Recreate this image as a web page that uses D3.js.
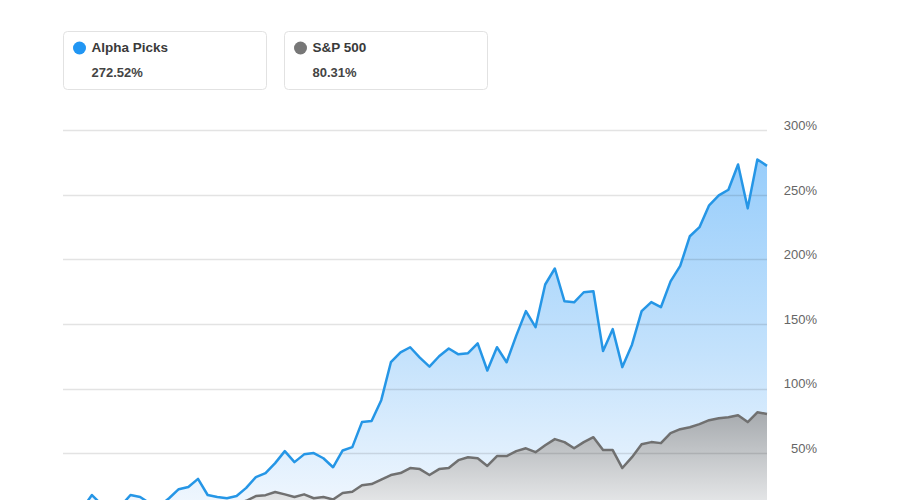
<!DOCTYPE html>
<html>
<head>
<meta charset="utf-8">
<script src="https://cdn.jsdelivr.net/npm/d3@7"></script>
<style>
  html, body { margin: 0; padding: 0; background: #fff; }
  svg { display: block; font-family: "Liberation Sans", Arial, sans-serif; }
</style>
</head>
<body>
<svg id="chart" width="900" height="500"></svg>
<script>
// ---- data ----
const seriesNames = ["Alpha Picks", "S&P 500"];
const seriesTotals = ["272.52%", "80.31%"];
const alphaValues = [8, 10, 7, 17.5, 10, 8, 9, 17.5, 16, 11, 9, 15, 22, 23.7, 30, 17.5, 16, 15, 16.7, 23,
  31.4, 34.5, 42.2, 51.5, 43, 49, 50, 46, 39, 52, 54.6, 74, 74.8, 91, 120.4, 128, 132, 124, 117, 125,
  131, 126.5, 127.4, 135, 114, 132, 120.4, 141, 160, 147.5, 180.6, 193, 167.6, 166.8, 174.6, 175.4, 129, 146, 116.6, 134,
  160, 167, 163, 183, 195, 218, 225, 242, 249.6, 254, 273.6, 239.6, 277.5, 272.52];
const spValues = [0, 2, 1, 3, 2, 4, 3, 5, 6, 4, 5, 7, 8, 9, 10, 8, 9, 10, 11, 13,
  16.7, 17.4, 19.8, 18, 16, 18, 15, 16, 14, 19, 20, 25, 26, 29.5, 33, 34.5, 38.4, 37.6, 33, 37.6,
  38.4, 44.5, 46.8, 46, 40, 47.7, 47.7, 51.5, 53.7, 50.7, 56, 60.8, 58.5, 53.7, 58.5, 62.3, 52.3, 52.3, 38.4, 46.8,
  56.8, 58.5, 57.7, 65.5, 68.5, 70, 72.4, 75.5, 77, 77.8, 79.3, 74, 81.6, 80.31];
const yTicks = [50, 100, 150, 200, 250, 300];

// ---- layout ----
const svg = d3.select("#chart");
const left = 63, right = 767;
const x = d3.scaleLinear().domain([0, alphaValues.length - 1]).range([left, right]);
const y = d3.scaleLinear().domain([0, 300]).range([517.6, 130.4]);

const defs = svg.append("defs");
const gb = defs.append("linearGradient").attr("id", "gBlue")
  .attr("gradientUnits", "userSpaceOnUse").attr("x1", 0).attr("x2", 0).attr("y1", y(280)).attr("y2", y(0));
gb.append("stop").attr("offset", "0%").attr("stop-color", "#97cdfb");
gb.append("stop").attr("offset", "55%").attr("stop-color", "#c4e2fc");
gb.append("stop").attr("offset", "100%").attr("stop-color", "#f3f8fe");
const gg = defs.append("linearGradient").attr("id", "gGray")
  .attr("gradientUnits", "userSpaceOnUse").attr("x1", 0).attr("x2", 0).attr("y1", y(82)).attr("y2", y(0));
gg.append("stop").attr("offset", "0%").attr("stop-color", "#a6aaae");
gg.append("stop").attr("offset", "100%").attr("stop-color", "#eff0f1");

const area = d3.area().x((d, i) => x(i)).y0(y(0)).y1(d => y(d));
const line = d3.line().x((d, i) => x(i)).y(d => y(d));

svg.append("path").datum(alphaValues).attr("d", area).attr("fill", "url(#gBlue)");
svg.append("path").datum(spValues).attr("d", area).attr("fill", "url(#gGray)");

// gridlines + labels
const yAxis = d3.axisRight(y).tickValues(yTicks).tickSize(0).tickFormat(d => d + "%");
svg.append("g").selectAll("line").data(yTicks).join("line")
  .attr("x1", left).attr("x2", right)
  .attr("y1", d => Math.round(y(d)) + 0.5).attr("y2", d => Math.round(y(d)) + 0.5)
  .attr("stroke", "rgba(0,0,0,0.11)").attr("stroke-width", 1.5);
const ax = svg.append("g").attr("transform", `translate(817,0)`).call(yAxis);
ax.select(".domain").remove();
ax.selectAll("text").attr("x", 0).attr("dy", "-0.05em").attr("text-anchor", "end")
  .attr("fill", "#666").style("font-size", "13px").style("font-family", "'Liberation Sans', Arial, sans-serif");

svg.append("path").datum(spValues).attr("d", line).attr("fill", "none")
  .attr("stroke", "#707070").attr("stroke-width", 2.5).attr("stroke-linejoin", "round");
svg.append("path").datum(alphaValues).attr("d", line).attr("fill", "none")
  .attr("stroke", "#2596e6").attr("stroke-width", 2.5).attr("stroke-linejoin", "round");

// legend cards
const dotColors = ["#2196f3", "#777777"];
const cardX = [63.5, 284.5];
seriesNames.forEach((name, i) => {
  const g = svg.append("g").attr("transform", `translate(${cardX[i]},31.5)`);
  g.append("rect").attr("width", 203).attr("height", 58).attr("rx", 4)
    .attr("fill", "#fff").attr("stroke", "#e2e2e2");
  g.append("circle").attr("cx", 16).attr("cy", 16.5).attr("r", 6.5).attr("fill", dotColors[i]);
  g.append("text").attr("x", 28).attr("y", 20.5).text(name)
    .attr("fill", "#3a3a3a").style("font-size", "13.5px").style("font-weight", "bold");
  g.append("text").attr("x", 28).attr("y", 45.5).text(seriesTotals[i])
    .attr("fill", "#444").style("font-size", "13px").style("font-weight", "bold");
});
</script>
</body>
</html>
